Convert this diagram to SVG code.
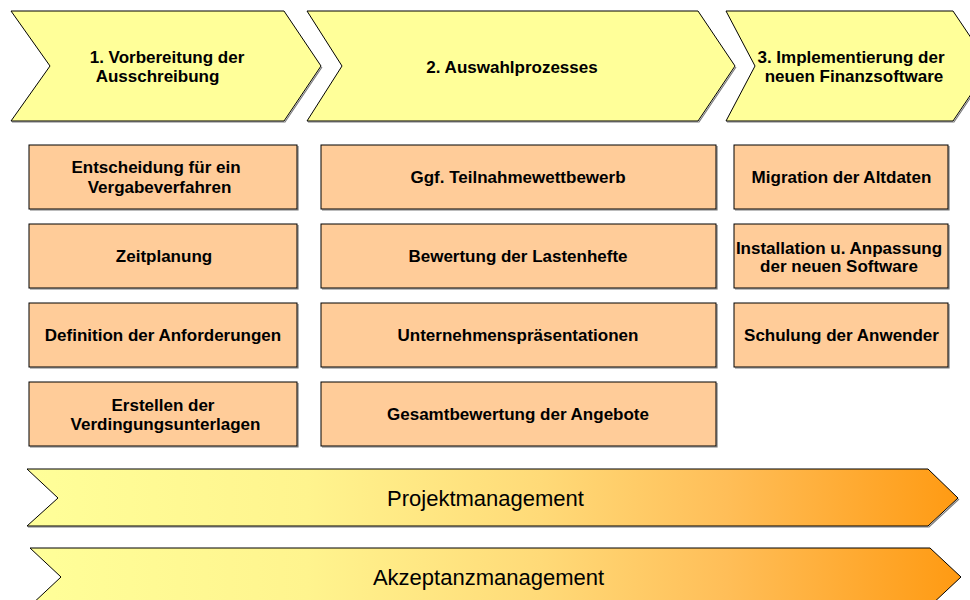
<svg xmlns="http://www.w3.org/2000/svg" width="970" height="600" viewBox="0 0 970 600">
  <defs>
    <linearGradient id="barFill" gradientUnits="userSpaceOnUse" x1="27" y1="0" x2="960" y2="0">
      <stop offset="0" stop-color="#FFFF99"/>
      <stop offset="0.3" stop-color="#FFF48E"/>
      <stop offset="0.55" stop-color="#FFDA78"/>
      <stop offset="0.75" stop-color="#FFBE58"/>
      <stop offset="1" stop-color="#FF9A12"/>
    </linearGradient>
  </defs>
  <style>
    .phase { fill: #FFFF99; stroke: #000; stroke-width: 1; }
    .task { fill: #FFCC99; stroke: #000; stroke-width: 1; }
    .bar { fill: url(#barFill); stroke: #000; stroke-width: 1; }
    .shadow { fill: none; stroke: #7a7a7a; stroke-width: 1.2; }
    .t { font-family: "Liberation Sans", Arial, sans-serif; font-weight: bold; font-size: 17px; fill: #000; text-anchor: middle; }
    .bt { font-family: "Liberation Sans", Arial, sans-serif; font-size: 22px; fill: #000; text-anchor: middle; }
  </style>

  <!-- phase chevrons -->
  <g id="phase1">
    <polyline class="shadow" points="322,67 285,122 12,122"/>
    <polygon class="phase" points="11,11 284,11 321,66 284,121 11,121 50,66"/>
    <text class="t" x="167" y="63">1. Vorbereitung der</text>
    <text class="t" x="157.5" y="82">Ausschreibung</text>
  </g>
  <g id="phase2">
    <polyline class="shadow" points="736,67 699,122 308,122"/>
    <polygon class="phase" points="307,11 698,11 735,66 698,121 307,121 342,66"/>
    <text class="t" x="512" y="72.5">2. Auswahlprozesses</text>
  </g>
  <g id="phase3">
    <polyline class="shadow" points="991,67 954,122 727,122"/>
    <polygon class="phase" points="726,11 953,11 990,66 953,121 726,121 755,66"/>
    <text class="t" x="851" y="63">3. Implementierung der</text>
    <text class="t" x="854" y="82">neuen Finanzsoftware</text>
  </g>

  <!-- column 1 tasks -->
  <g id="task-entscheidung">
    <polyline class="shadow" points="298,146 298,210 30,210"/>
    <rect class="task" x="29" y="145" width="268" height="64"/>
    <text class="t" x="156" y="173">Entscheidung für ein</text>
    <text class="t" x="159.5" y="192.5">Vergabeverfahren</text>
  </g>
  <g id="task-zeitplanung">
    <polyline class="shadow" points="298,225 298,289 30,289"/>
    <rect class="task" x="29" y="224" width="268" height="64"/>
    <text class="t" x="164" y="262">Zeitplanung</text>
  </g>
  <g id="task-anforderungen">
    <polyline class="shadow" points="298,304 298,368 30,368"/>
    <rect class="task" x="29" y="303" width="268" height="64"/>
    <text class="t" x="163" y="341">Definition der Anforderungen</text>
  </g>
  <g id="task-verdingung">
    <polyline class="shadow" points="298,383 298,447 30,447"/>
    <rect class="task" x="29" y="382" width="268" height="64"/>
    <text class="t" x="163" y="410.5">Erstellen der</text>
    <text class="t" x="165.5" y="430">Verdingungsunterlagen</text>
  </g>

  <!-- column 2 tasks -->
  <g id="task-teilnahme">
    <polyline class="shadow" points="717,146 717,210 322,210"/>
    <rect class="task" x="321" y="145" width="395" height="64"/>
    <text class="t" x="518" y="183">Ggf. Teilnahmewettbewerb</text>
  </g>
  <g id="task-lastenhefte">
    <polyline class="shadow" points="717,225 717,289 322,289"/>
    <rect class="task" x="321" y="224" width="395" height="64"/>
    <text class="t" x="518" y="262">Bewertung der Lastenhefte</text>
  </g>
  <g id="task-praesentationen">
    <polyline class="shadow" points="717,304 717,368 322,368"/>
    <rect class="task" x="321" y="303" width="395" height="64"/>
    <text class="t" x="518" y="341">Unternehmenspräsentationen</text>
  </g>
  <g id="task-gesamtbewertung">
    <polyline class="shadow" points="717,383 717,447 322,447"/>
    <rect class="task" x="321" y="382" width="395" height="64"/>
    <text class="t" x="518" y="420">Gesamtbewertung der Angebote</text>
  </g>

  <!-- column 3 tasks -->
  <g id="task-migration">
    <polyline class="shadow" points="949,146 949,210 735,210"/>
    <rect class="task" x="734" y="145" width="214" height="64"/>
    <text class="t" x="841.5" y="183">Migration der Altdaten</text>
  </g>
  <g id="task-installation">
    <polyline class="shadow" points="949,225 949,289 735,289"/>
    <rect class="task" x="734" y="224" width="214" height="64"/>
    <text class="t" x="839" y="253.5">Installation u. Anpassung</text>
    <text class="t" x="839" y="272">der neuen Software</text>
  </g>
  <g id="task-schulung">
    <polyline class="shadow" points="949,304 949,368 735,368"/>
    <rect class="task" x="734" y="303" width="214" height="64"/>
    <text class="t" x="841.5" y="341">Schulung der Anwender</text>
  </g>

  <!-- cross-cutting bars -->
  <g id="bar-projektmanagement">
    <polyline class="shadow" points="959,499 929,527 28,527"/>
    <polygon class="bar" points="27,469 928,469 958,498 928,526 27,526 58,498"/>
    <text class="bt" x="485.5" y="506">Projektmanagement</text>
  </g>
  <g id="bar-akzeptanzmanagement">
    <polygon class="bar" points="30,548 930,548 961,577 930,606 30,606 61,577"/>
    <text class="bt" x="488.5" y="585">Akzeptanzmanagement</text>
  </g>
</svg>
